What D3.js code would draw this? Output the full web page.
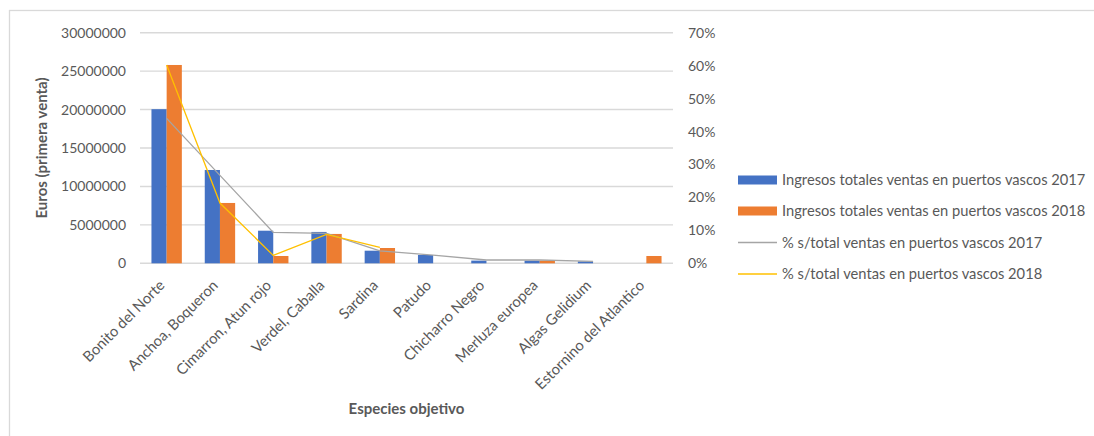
<!DOCTYPE html>
<html>
<head>
<meta charset="utf-8">
<script src="https://cdn.jsdelivr.net/npm/d3@7"></script>
<style>
  html, body { margin: 0; padding: 0; background: #fff; }
  svg { display: block; font-family: Lato, "Open Sans", sans-serif; }
</style>
</head>
<body>
<svg id="chart" width="1094" height="436"></svg>
<script>
// Species (x categories)
const categories = [
  "Bonito del Norte", "Anchoa, Boqueron", "Cimarron, Atun rojo", "Verdel, Caballa",
  "Sardina", "Patudo", "Chicharro Negro", "Merluza europea", "Algas Gelidium",
  "Estornino del Atlantico"
];
// Total first-sale revenue (euros)
const ingresos2017 = [20050000, 12140000, 4240000, 4080000, 1640000, 1080000, 350000, 350000, 250000, 0];
const ingresos2018 = [25800000, 7850000, 950000, 3820000, 1990000, 0, 0, 350000, 0, 950000];
// Share of total sales (%), null where no value
const pct2017 = [44.0, 26.7, 9.4, 9.1, 3.8, 2.5, 1.0, 1.0, 0.6, null];
const pct2018 = [60.2, 18.3, 2.4, 8.8, 4.8, null, null, 0.8, null, 2.2];
// Axis ticks
const leftTicks = [0, 5000000, 10000000, 15000000, 20000000, 25000000, 30000000];
const rightTicks = [0, 10, 20, 30, 40, 50, 60, 70];
const seriesNames = [
  "Ingresos totales ventas en puertos vascos 2017",
  "Ingresos totales ventas en puertos vascos 2018",
  "% s/total ventas en puertos vascos 2017",
  "% s/total ventas en puertos vascos 2018"
];
const colors = { b2017: "#4472C4", b2018: "#ED7D31", l2017: "#A5A5A5", l2018: "#FFC000" };

const svg = d3.select("#chart");
const plot = { left: 140, right: 673, top: 32.7, bottom: 263.3 };

// chart frame
svg.append("rect")
  .attr("x", 9.5).attr("y", 10.5).attr("width", 1100).attr("height", 440)
  .attr("fill", "none").attr("stroke", "#d9d9d9").attr("stroke-width", 1.3);

const x0 = d3.scaleBand().domain(categories).range([plot.left, plot.right])
  .paddingInner(0.43).paddingOuter(0.215);
const x1 = d3.scaleBand().domain(["2017", "2018"]).range([0, x0.bandwidth()]);
const yL = d3.scaleLinear().domain([0, 30000000]).range([plot.bottom, plot.top]);
const yR = d3.scaleLinear().domain([0, 70]).range([plot.bottom, plot.top]);

// gridlines
svg.append("g").selectAll("line").data(leftTicks).join("line")
  .attr("x1", plot.left).attr("x2", plot.right)
  .attr("y1", d => yL(d)).attr("y2", d => yL(d))
  .attr("stroke", "#d9d9d9").attr("stroke-width", 1.4);

// left axis labels
const leftAxis = d3.axisLeft(yL).tickValues(leftTicks).tickFormat(d3.format("d")).tickSize(0).tickPadding(14);
const gl = svg.append("g").attr("transform", `translate(${plot.left},0)`).call(leftAxis);
gl.select(".domain").remove();
gl.selectAll("text").attr("fill", "#595959").style("font-size", "14px").style("font-family", "Lato");

// right axis labels
const rightAxis = d3.axisRight(yR).tickValues(rightTicks).tickFormat(d => d + "%").tickSize(0).tickPadding(15);
const gr = svg.append("g").attr("transform", `translate(${plot.right},0)`).call(rightAxis);
gr.select(".domain").remove();
gr.selectAll("text").attr("fill", "#595959").style("font-size", "14px").style("font-family", "Lato");

// bars
const rows = categories.map((c, i) => ({ c, v17: ingresos2017[i], v18: ingresos2018[i] }));
const groups = svg.append("g").selectAll("g").data(rows).join("g")
  .attr("transform", d => `translate(${x0(d.c)},0)`);
groups.append("rect")
  .attr("x", x1("2017")).attr("width", x1.bandwidth())
  .attr("y", d => yL(d.v17)).attr("height", d => yL(0) - yL(d.v17))
  .attr("fill", colors.b2017);
groups.append("rect")
  .attr("x", x1("2018")).attr("width", x1.bandwidth())
  .attr("y", d => yL(d.v18)).attr("height", d => yL(0) - yL(d.v18))
  .attr("fill", colors.b2018);

// percentage lines
const cx = c => x0(c) + x0.bandwidth() / 2;
const line = d3.line().defined(d => d.v != null).x(d => cx(d.c)).y(d => yR(d.v));
svg.append("path")
  .datum(categories.map((c, i) => ({ c, v: pct2017[i] })))
  .attr("d", line).attr("fill", "none").attr("stroke", colors.l2017).attr("stroke-width", 1.3);
svg.append("path")
  .datum(categories.map((c, i) => ({ c, v: pct2018[i] })))
  .attr("d", line).attr("fill", "none").attr("stroke", colors.l2018).attr("stroke-width", 1.3);

// category labels
svg.append("g").selectAll("text").data(categories).join("text")
  .attr("transform", d => `translate(${cx(d) - 1},${plot.bottom + 23}) rotate(-45)`)
  .attr("text-anchor", "end")
  .attr("fill", "#595959").style("font-size", "14.8px")
  .text(d => d);

// axis titles
svg.append("text")
  .attr("transform", `translate(47,148) rotate(-90)`)
  .attr("text-anchor", "middle")
  .attr("fill", "#595959").style("font-size", "15px").style("font-weight", "bold")
  .text("Euros (primera venta)");
svg.append("text")
  .attr("x", (plot.left + plot.right) / 2).attr("y", 414)
  .attr("text-anchor", "middle")
  .attr("fill", "#595959").style("font-size", "15px").style("font-weight", "bold")
  .text("Especies objetivo");

// legend
const legendY = [180, 211, 242.5, 274];
const lg = svg.append("g");
seriesNames.forEach((name, i) => {
  const y = legendY[i];
  if (i < 2) {
    lg.append("rect").attr("x", 738).attr("y", y - 4.5).attr("width", 39).attr("height", 9)
      .attr("fill", i === 0 ? colors.b2017 : colors.b2018);
  } else {
    lg.append("line").attr("x1", 738).attr("x2", 777).attr("y1", y).attr("y2", y)
      .attr("stroke", i === 2 ? colors.l2017 : colors.l2018).attr("stroke-width", 1.3);
  }
  lg.append("text").attr("x", 782).attr("y", y).attr("dy", "0.35em")
    .attr("fill", "#595959").style("font-size", "14.7px")
    .text(name);
});
</script>
</body>
</html>
